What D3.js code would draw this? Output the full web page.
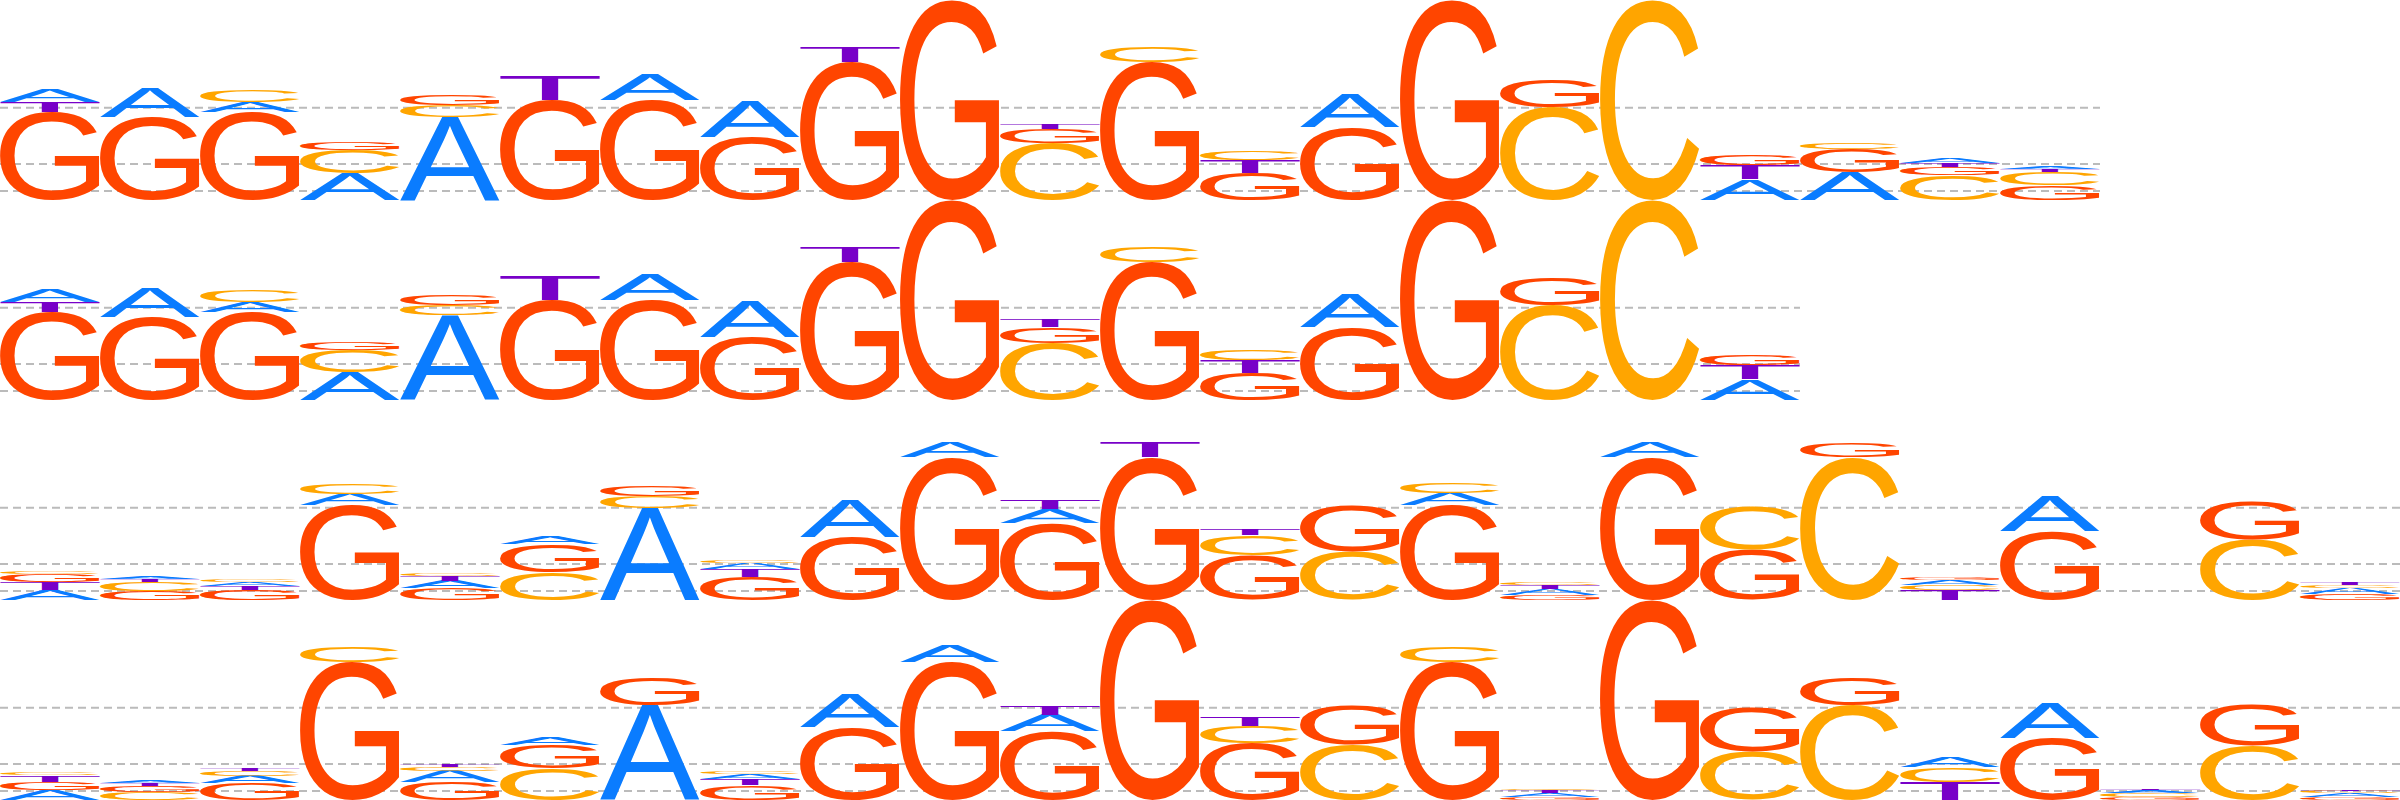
<!DOCTYPE html>
<html>
<head>
<meta charset="utf-8">
<script src="https://cdn.jsdelivr.net/npm/d3@7"></script>
<style>
  html, body { margin: 0; padding: 0; background: #ffffff; }
  svg { display: block; }
</style>
</head>
<body>
<svg id="chart" width="2400" height="800"></svg>
<script>
// ---- DATA (letter stacks, bottom to top, heights in bits) ----
const motif1 = [
  [["G",0.88],["T",0.10],["A",0.12]],
  [["G",0.83],["A",0.29]],
  [["G",0.88],["A",0.10],["C",0.12]],
  [["A",0.27],["C",0.23],["G",0.08]],
  [["A",0.83],["C",0.12],["G",0.11]],
  [["G",1.00],["T",0.25]],
  [["G",1.00],["A",0.25]],
  [["G",0.63],["A",0.36]],
  [["G",1.38],["T",0.16]],
  [["G",2.00]],
  [["C",0.57],["G",0.14],["T",0.05]],
  [["G",1.38],["C",0.16]],
  [["G",0.27],["T",0.13],["C",0.09]],
  [["G",0.73],["A",0.33]],
  [["G",2.00]],
  [["C",0.93],["G",0.28]],
  [["C",2.00]],
  [["A",0.21],["T",0.14],["G",0.10]],
  [["A",0.28],["G",0.23],["C",0.07]],
  [["C",0.25],["G",0.08],["T",0.04],["A",0.05]],
  [["G",0.15],["C",0.13],["T",0.03],["A",0.03]]
];
const motif2 = [
  [["G",0.88],["T",0.10],["A",0.12]],
  [["G",0.83],["A",0.29]],
  [["G",0.88],["A",0.10],["C",0.12]],
  [["A",0.28],["C",0.22],["G",0.08]],
  [["A",0.85],["C",0.10],["G",0.11]],
  [["G",1.00],["T",0.25]],
  [["G",1.00],["A",0.25]],
  [["G",0.63],["A",0.36]],
  [["G",1.38],["T",0.16]],
  [["G",2.00]],
  [["C",0.57],["G",0.16],["T",0.08]],
  [["G",1.38],["C",0.16]],
  [["G",0.27],["T",0.13],["C",0.10]],
  [["G",0.73],["A",0.33]],
  [["G",2.00]],
  [["C",0.95],["G",0.27]],
  [["C",2.00]],
  [["A",0.21],["T",0.14],["G",0.10]]
];
const motif3 = [
  [["A",0.10],["T",0.08],["G",0.08],["C",0.02]],
  [["G",0.09],["C",0.09],["T",0.03],["A",0.02]],
  [["G",0.10],["T",0.04],["A",0.04],["C",0.03]],
  [["G",0.95],["A",0.11],["C",0.11]],
  [["G",0.12],["A",0.07],["T",0.05],["C",0.03]],
  [["C",0.28],["G",0.28],["A",0.07]],
  [["A",0.92],["C",0.12],["G",0.11]],
  [["G",0.23],["T",0.08],["A",0.06],["C",0.03]],
  [["G",0.63],["A",0.37]],
  [["G",1.43],["A",0.15]],
  [["G",0.77],["A",0.14],["T",0.09]],
  [["G",1.43],["T",0.15]],
  [["G",0.45],["C",0.20],["T",0.07]],
  [["C",0.48],["G",0.46]],
  [["G",0.95],["A",0.12],["C",0.11]],
  [["G",0.05],["A",0.06],["T",0.04],["C",0.02]],
  [["G",1.43],["A",0.15]],
  [["G",0.50],["C",0.44]],
  [["C",1.43],["G",0.15]],
  [["T",0.10],["C",0.05],["A",0.05],["G",0.02]],
  [["G",0.69],["A",0.34]],
  [],
  [["C",0.60],["G",0.38]],
  [["G",0.06],["A",0.06],["C",0.03],["T",0.02]]
];
const motif4 = [
  [["A",0.10],["G",0.08],["T",0.07],["C",0.02]],
  [["C",0.08],["G",0.06],["T",0.03],["A",0.03]],
  [["G",0.17],["A",0.07],["C",0.05],["T",0.03]],
  [["G",1.38],["C",0.16]],
  [["G",0.18],["A",0.11],["C",0.04],["T",0.03]],
  [["C",0.32],["G",0.23],["A",0.07]],
  [["A",0.95],["G",0.27]],
  [["G",0.15],["T",0.06],["A",0.05],["C",0.03]],
  [["G",0.73],["A",0.33]],
  [["G",1.38],["A",0.16]],
  [["G",0.69],["A",0.16],["T",0.09]],
  [["G",2.00]],
  [["G",0.57],["C",0.17],["T",0.09]],
  [["C",0.55],["G",0.39]],
  [["G",1.38],["C",0.16]],
  [["G",0.03],["A",0.04],["T",0.03],["C",0.01]],
  [["G",2.00]],
  [["C",0.48],["G",0.45]],
  [["C",0.95],["G",0.27]],
  [["T",0.18],["C",0.15],["A",0.10]],
  [["G",0.62],["A",0.35]],
  [["G",0.03],["C",0.04],["A",0.03],["T",0.01]],
  [["C",0.54],["G",0.41]],
  [["G",0.03],["A",0.04],["C",0.02],["T",0.01]]
];
const gridValues = [0.09, 0.36, 0.923];
const baseColors = { A: "#0a7cff", C: "#ffa500", G: "#ff4500", T: "#7800c8" };
const maxBits = 2;

// ---- DRAWING ----
const svg = d3.select("#chart");
const rowHeight = 200, colWidth = 100;
const fontSpec = "normal 100px 'Liberation Sans', Arial, sans-serif";

// measure glyph ink boxes
const ctx = document.createElement("canvas").getContext("2d");
ctx.font = fontSpec;
const glyph = {};
["A","C","G","T"].forEach(l => {
  const m = ctx.measureText(l);
  glyph[l] = { left: m.actualBoundingBoxLeft, right: m.actualBoundingBoxRight,
               asc: m.actualBoundingBoxAscent, desc: m.actualBoundingBoxDescent };
});

const motifs = [motif1, motif2, motif3, motif4];
motifs.forEach((motif, r) => {
  const top = r * rowHeight;
  const g = svg.append("g");
  const x = d3.scaleBand().domain(d3.range(motif.length)).range([0, motif.length * colWidth]).padding(0);
  const y = d3.scaleLinear().domain([0, maxBits]).range([top + rowHeight, top]);

  g.append("g").selectAll("line").data(gridValues).join("line")
    .attr("x1", 0).attr("x2", motif.length * colWidth)
    .attr("y1", d => y(d)).attr("y2", d => y(d))
    .attr("stroke", "#bbbbbb").attr("stroke-width", 2)
    .attr("stroke-dasharray", "8,5");

  const cols = g.append("g").selectAll("g").data(motif).join("g");
  cols.each(function(stack, i) {
    let cum = 0;
    const items = stack.map(([l, h]) => { const o = { l, y0: cum, y1: cum + h }; cum += h; return o; });
    d3.select(this).selectAll("text").data(items).join("text")
      .text(d => d.l)
      .attr("fill", d => baseColors[d.l])
      .style("font", fontSpec)
      .attr("transform", d => {
        const gm = glyph[d.l];
        const w = x.bandwidth();
        const hpx = y(d.y0) - y(d.y1);
        const sx = w / (gm.left + gm.right);
        const sy = hpx / (gm.asc + gm.desc);
        const tx = x(i) + gm.left * sx;
        const ty = y(d.y1) + gm.asc * sy;
        return `translate(${tx},${ty}) scale(${sx},${sy})`;
      });
  });
});
</script>
</body>
</html>
